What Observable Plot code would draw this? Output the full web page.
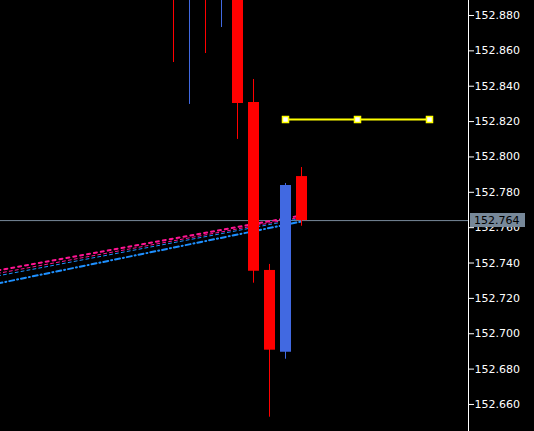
<!DOCTYPE html>
<html><head><meta charset="utf-8">
<script src="https://cdn.jsdelivr.net/npm/d3@7"></script>
<script src="https://cdn.jsdelivr.net/npm/@observablehq/plot@0.6"></script>
<style>html,body{margin:0;padding:0;background:#000;overflow:hidden}</style>
</head><body><div id="chart"></div>
<script>
// Candles (bar index, OHLC)
const candleIndex = [1, 2, 3, 4, 5, 6, 7, 8, 9];
const openP  = [152.925, 152.895, 152.915, 152.893, 152.912, 152.8308, 152.7358, 152.6896, 152.7889];
const highP  = [152.930, 152.920, 152.925, 152.918, 152.915, 152.8438, 152.7392, 152.7850, 152.7940];
const lowP   = [152.8534, 152.8297, 152.8585, 152.8732, 152.8099, 152.7286, 152.6528, 152.6856, 152.7608];
const closeP = [152.900, 152.915, 152.895, 152.912, 152.8302, 152.7354, 152.6907, 152.7838, 152.7640];

// Moving-average lines (start / end)
const maIndex = [-10, 9];
const maPinkThick = [152.7358, 152.7669];
const maPinkThin  = [152.7341, 152.7660];
const maBlueThin  = [152.7327, 152.7652];
const maBlueThick = [152.7284, 152.7635];

// Horizontal yellow level with anchor points
const levelIndex = [8, 12.5, 17];
const levelPrice = 152.8212;

// Current price
const currentPrice = 152.764;

// Axis ticks
const yTicks = [152.66, 152.68, 152.70, 152.72, 152.74, 152.76, 152.78, 152.80, 152.82, 152.84, 152.86, 152.88];

const candles = candleIndex.map((i, k) => ({
  i, open: openP[k], high: highP[k], low: lowP[k], close: closeP[k],
  color: closeP[k] >= openP[k] ? "#4169E1" : "#FF0000"
}));
const maSeries = [
  {name: "pinkThick", vals: maPinkThick},
  {name: "pinkThin", vals: maPinkThin},
  {name: "blueThin", vals: maBlueThin},
  {name: "blueThick", vals: maBlueThick}
];
const maData = name => maIndex.map((i, k) => ({i, p: maSeries.find(s => s.name === name).vals[k]}));
const levelData = levelIndex.map(i => ({i, p: levelPrice}));

const chart = Plot.plot({
  width: 534,
  height: 431,
  marginLeft: 0,
  marginRight: 66,
  marginTop: 0,
  marginBottom: 0,
  style: {background: "#000", color: "#fff", fontFamily: "DejaVu Sans", fontSize: "11px"},
  x: {type: "linear", domain: [-9.8125, 19.4375], axis: null},
  y: {domain: [152.64471, 152.88848]},
  marks: [
    Plot.ruleY([currentPrice], {stroke: "#778899", strokeWidth: 1}),
    Plot.line(maData("pinkThick"), {x: "i", y: "p", stroke: "#FF1493", strokeWidth: 2, strokeDasharray: "3,4", clip: true}),
    Plot.line(maData("pinkThin"), {x: "i", y: "p", stroke: "#FF1493", strokeWidth: 1, strokeDasharray: "3,3", clip: true}),
    Plot.line(maData("blueThin"), {x: "i", y: "p", stroke: "#1E90FF", strokeWidth: 1, strokeDasharray: "3,3", clip: true}),
    Plot.line(maData("blueThick"), {x: "i", y: "p", stroke: "#1E90FF", strokeWidth: 2, strokeDasharray: "5,3,1,3", clip: true}),
    Plot.ruleX(candles, {x: "i", y1: "low", y2: "high", stroke: "color", strokeWidth: 1, clip: true}),
    Plot.ruleX(candles, {x: "i", y1: "open", y2: "close", stroke: "color", strokeWidth: 11, clip: true}),
    Plot.line(levelData, {x: "i", y: "p", stroke: "#FFFF00", strokeWidth: 2}),
    Plot.dot(levelData, {x: "i", y: "p", symbol: "square", r: 3.4, fill: "#fff", stroke: "#FFFF00", strokeWidth: 1.5}),
    Plot.frame({anchor: "right", stroke: "#fff"}),
    Plot.axisY(yTicks, {anchor: "right", tickSize: 5, tickPadding: 1, tickFormat: d3.format(".3f"), stroke: "#fff", fill: "#fff", label: null})
  ]
});
document.getElementById("chart").appendChild(chart);

// Current price tag on the price axis
const svg = d3.select(chart);
const yc = chart.scale("y").apply(currentPrice);
const tag = svg.append("g");
tag.append("rect").attr("x", 470).attr("y", Math.round(yc) - 7).attr("width", 55).attr("height", 14).attr("fill", "#778899");
tag.append("text").attr("x", 474).attr("y", yc).attr("dy", "0.32em")
  .attr("text-anchor", "start")
  .attr("fill", "#000").attr("font-family", "DejaVu Sans").attr("font-size", 11)
  .text(d3.format(".3f")(currentPrice));
</script>
</body></html>
